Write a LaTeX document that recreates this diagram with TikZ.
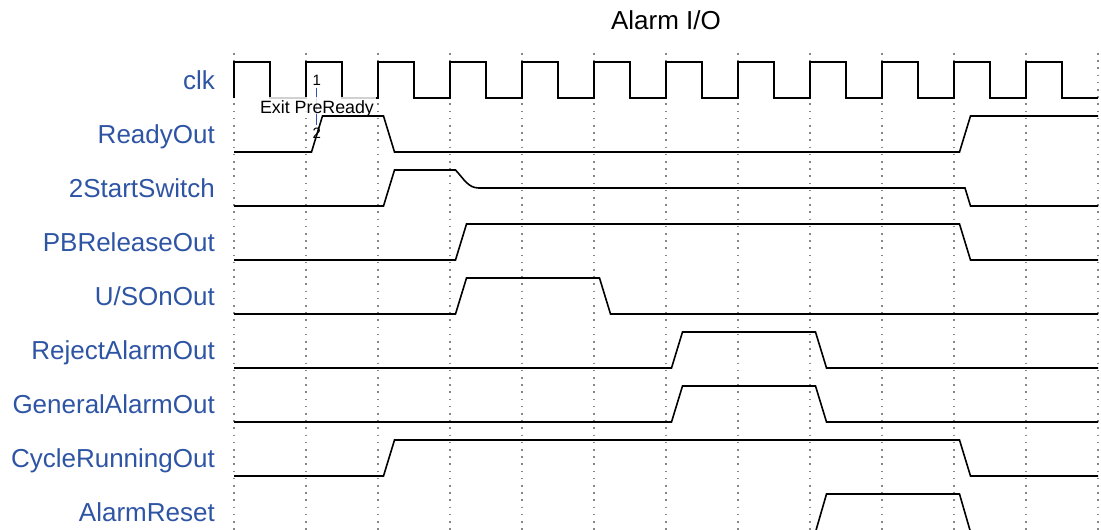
\documentclass[tikz,border=0pt]{standalone}
\usepackage{fontspec}
\setmainfont{Liberation Sans}
\definecolor{lblblue}{RGB}{46,84,164}
\definecolor{mkblue}{RGB}{50,80,180}
\definecolor{dotgray}{RGB}{135,135,135}
\begin{document}
\begin{tikzpicture}[x=1pt,y=-1pt,
  sig/.style={line width=1.6pt, line join=miter, black},
  gridline/.style={dotgray, line width=1.2pt, dash pattern=on 1.5pt off 5.7pt},
  lbl/.style={anchor=base east, text=lblblue, inner sep=0pt, font=\fontsize{26}{30}\selectfont},
  marker/.style={mkblue, line width=1.3pt},
  smalltxt/.style={anchor=base, inner sep=0pt, font=\fontsize{15}{17}\selectfont}]
\useasboundingbox (0,0) rectangle (1101,530);
\clip (0,0) rectangle (1101,530);
% title
\node[anchor=base, inner sep=0pt, font=\fontsize{26}{30}\selectfont] (title) at (666,29.3) {Alarm I/O};
% grid
\foreach \k in {0,...,12} \draw[gridline] ({234+72*\k},53) -- ({234+72*\k},531);
% labels
\node[lbl] (l0) at (215,89.3) {clk};
\node[lbl] (l1) at (215,143.3) {ReadyOut};
\node[lbl] (l2) at (215,197.3) {2StartSwitch};
\node[lbl] (l3) at (215,251.3) {PBReleaseOut};
\node[lbl] (l4) at (215,305.3) {U/SOnOut};
\node[lbl] (l5) at (215,359.3) {RejectAlarmOut};
\node[lbl] (l6) at (215,413.3) {GeneralAlarmOut};
\node[lbl] (l7) at (215,467.3) {CycleRunningOut};
\node[lbl] (l8) at (215,521.3) {AlarmReset};
% clock
\draw[sig] (234,98) \foreach \k in {0,...,11} { -- ({234+72*\k},62) -- ({270+72*\k},62) -- ({270+72*\k},98) -- ({306+72*\k},98) };
% marker
\coordinate (mtop) at (316.7,87.5);
\coordinate (mbot) at (316.7,125);
\draw[marker] (mtop) -- (mbot);
\node[smalltxt] (m1) at (316.7,85.5) {1};
\node[smalltxt] (m2) at (316.7,138.5) {2};
% Exit PreReady label box
\fill[white, fill opacity=0.82] (258,97) rectangle (376,113.5);
\node[anchor=base, inner sep=0pt, font=\fontsize{17.8}{20}\selectfont] (exitlbl) at (317,113.3) {Exit PreReady};
% ReadyOut
\draw[sig] (234,152) -- (311.5,152) -- (322.5,116) -- (383.5,116) -- (394.5,152) -- (959.5,152) -- (970.5,116) -- (1098,116);
% 2StartSwitch
\draw[sig] (234,206) -- (383.5,206) -- (394.5,170) -- (455.5,170) .. controls (464,179) and (468,188) .. (479,188) -- (965,188) -- (970.5,206) -- (1098,206);
% PBReleaseOut
\draw[sig] (234,260) -- (455.5,260) -- (466.5,224) -- (959.5,224) -- (970.5,260) -- (1098,260);
% U/SOnOut
\draw[sig] (234,314) -- (455.5,314) -- (466.5,278) -- (599.5,278) -- (610.5,314) -- (1098,314);
% RejectAlarmOut
\draw[sig] (234,368) -- (671.5,368) -- (682.5,332) -- (815.5,332) -- (826.5,368) -- (1098,368);
% GeneralAlarmOut
\draw[sig] (234,422) -- (671.5,422) -- (682.5,386) -- (815.5,386) -- (826.5,422) -- (1098,422);
% CycleRunningOut
\draw[sig] (234,476) -- (383.5,476) -- (394.5,440) -- (959.5,440) -- (970.5,476) -- (1098,476);
% AlarmReset
\draw[sig] (234,532) -- (815.5,532) -- (826.5,494) -- (959.5,494) -- (970.5,532) -- (1098,532);
\end{tikzpicture}
\end{document}
